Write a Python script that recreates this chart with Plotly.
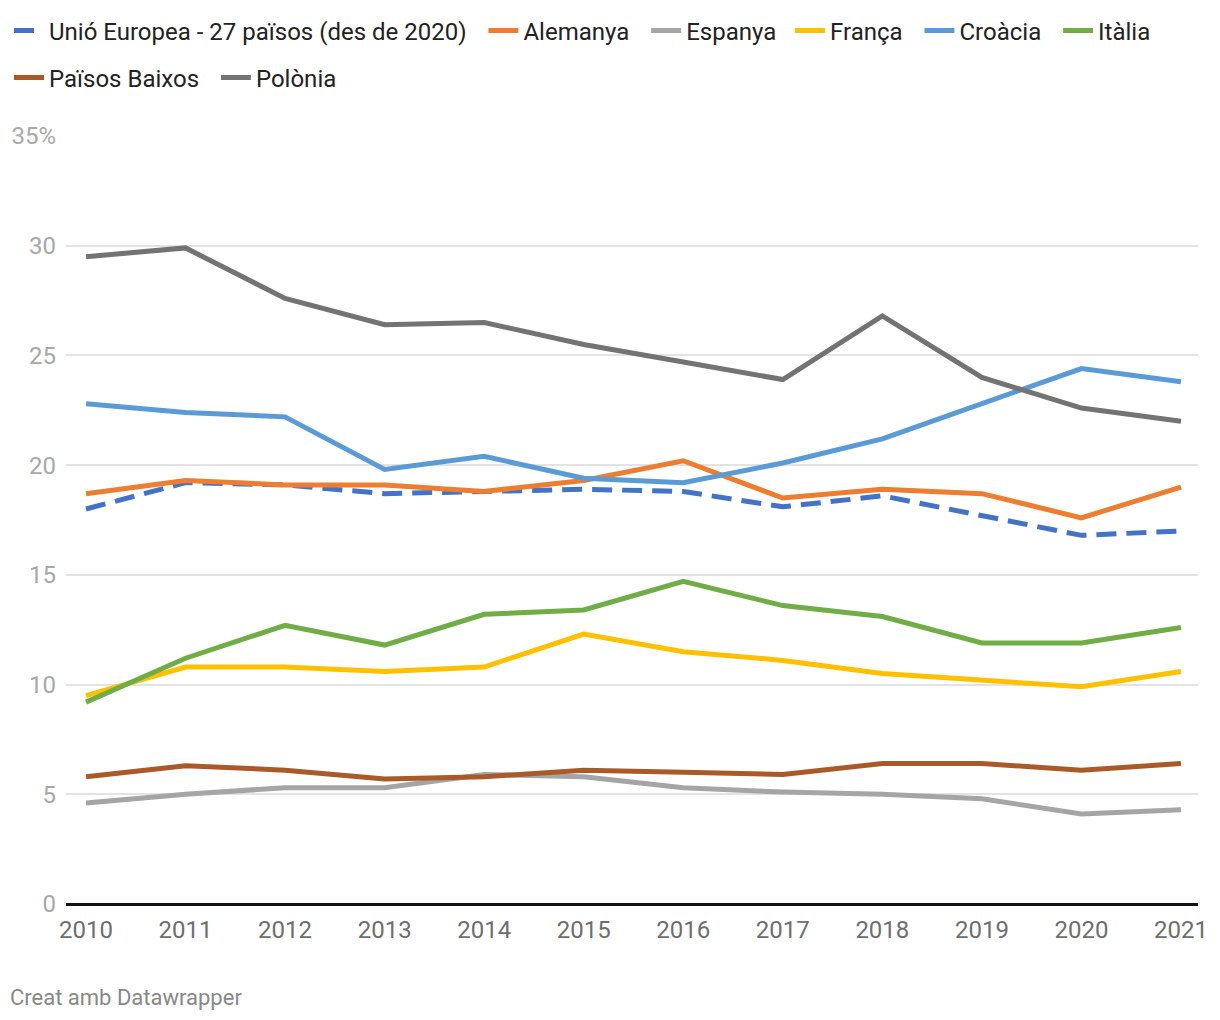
import plotly.graph_objects as go

years = list(range(2010, 2022))

ue = [18.0, 19.2, 19.1, 18.7, 18.8, 18.9, 18.8, 18.1, 18.6, 17.7, 16.8, 17.0]
alemanya = [18.7, 19.3, 19.1, 19.1, 18.8, 19.3, 20.2, 18.5, 18.9, 18.7, 17.6, 19.0]
espanya = [4.6, 5.0, 5.3, 5.3, 5.9, 5.8, 5.3, 5.1, 5.0, 4.8, 4.1, 4.3]
franca = [9.5, 10.8, 10.8, 10.6, 10.8, 12.3, 11.5, 11.1, 10.5, 10.2, 9.9, 10.6]
croacia = [22.8, 22.4, 22.2, 19.8, 20.4, 19.4, 19.2, 20.1, 21.2, 22.8, 24.4, 23.8]
italia = [9.2, 11.2, 12.7, 11.8, 13.2, 13.4, 14.7, 13.6, 13.1, 11.9, 11.9, 12.6]
paisos_baixos = [5.8, 6.3, 6.1, 5.7, 5.8, 6.1, 6.0, 5.9, 6.4, 6.4, 6.1, 6.4]
polonia = [29.5, 29.9, 27.6, 26.4, 26.5, 25.5, 24.7, 23.9, 26.8, 24.0, 22.6, 22.0]

PAD = "\u00a0\u00a0"  # extra spacing between legend entries

# (name, values, colour, dash, legend group, padded name?)
series = [
    ("Unió Europea - 27 països (des de 2020)", ue, "#4472c4", "20px,10px", "legend", True),
    ("Alemanya", alemanya, "#ed7d31", "solid", "legend", True),
    ("Espanya", espanya, "#a5a5a5", "solid", "legend", False),
    ("França", franca, "#ffc000", "solid", "legend3", True),
    ("Croàcia", croacia, "#5b9bd5", "solid", "legend3", True),
    ("Itàlia", italia, "#70ad47", "solid", "legend3", False),
    ("Països Baixos", paisos_baixos, "#aa5a28", "solid", "legend2", True),
    ("Polònia", polonia, "#737373", "solid", "legend2", False),
]

y_tickvals = [0, 5, 10, 15, 20, 25, 30, 35]
y_ticktext = ["0", "5", "10", "15", "20", "25", "30", "35%"]

fig = go.Figure()
for name, vals, color, dash, lg, pad in series:
    fig.add_trace(go.Scatter(
        x=years, y=vals, name=name + (PAD if pad else ""), mode="lines",
        legend=lg,
        line=dict(color=color, width=5, dash=dash),
        hovertemplate=name + ": %{y}<extra></extra>",
    ))

W, H = 1220, 1020
L, R, T, B = 58, 30, 128, 124
pw = W - L - R
ph = H - T - B

legend_common = dict(
    orientation="h", xref="container", yref="container",
    xanchor="left", yanchor="middle",
    font=dict(size=24, color="#222222", family="Roboto"),
    itemwidth=30, tracegroupgap=0,
    bgcolor="rgba(0,0,0,0)",
)

fig.update_layout(
    width=W, height=H,
    margin=dict(l=L, r=R, t=T, b=B, pad=0, autoexpand=False),
    paper_bgcolor="white", plot_bgcolor="white",
    font=dict(family="Roboto", size=24, color="#222222"),
    showlegend=True,
    legend=dict(legend_common, x=1 / W, y=1 - 23 / H),
    legend3=dict(legend_common, x=782 / W, y=1 - 23 / H),
    legend2=dict(legend_common, x=1 / W, y=1 - 70 / H),
    xaxis=dict(
        range=[2009.799, 2021.171],
        tickvals=years, ticktext=[str(y) for y in years],
        showgrid=False, zeroline=False,
        showline=False,
        ticks="", tickfont=dict(size=24, color="#6e6e6e"),
        ticklabelstandoff=9,
        fixedrange=True,
    ),
    yaxis=dict(
        range=[0, 35],
        tickvals=y_tickvals, ticktext=y_ticktext,
        showgrid=True, gridcolor="#e3e3e3", gridwidth=1.5,
        zeroline=True, zerolinecolor="#111111", zerolinewidth=2.5,
        showline=False, ticks="",
        tickfont=dict(size=24, color="#a8a8a8"),
        ticklabelstandoff=9,
        fixedrange=True,
    ),
    annotations=[dict(
        text="Creat amb Datawrapper", showarrow=False,
        xref="paper", yref="paper",
        x=(0 - L) / pw, xanchor="left",
        y=-(989 - (H - B)) / ph, yanchor="middle",
        font=dict(size=22, color="#888888"),
    )],
)

fig.write_html("out.html")
